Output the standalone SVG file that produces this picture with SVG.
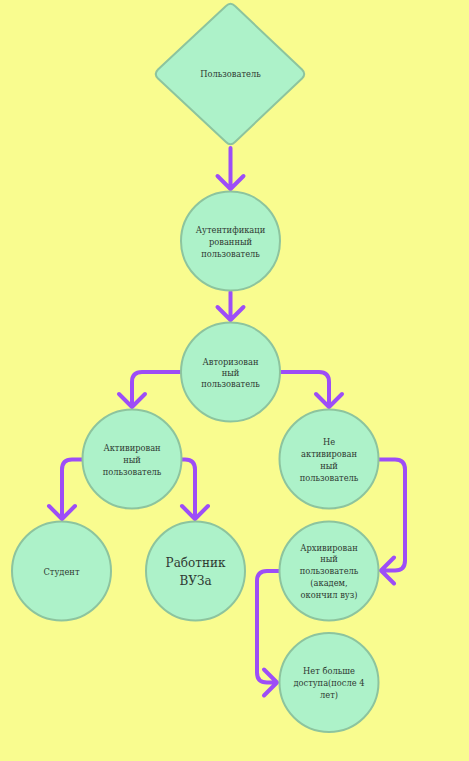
<svg xmlns="http://www.w3.org/2000/svg" width="469" height="761" viewBox="0 0 469 761">
<style>
.n{fill:#ADF2C9;stroke:#8DC49E;stroke-width:2}
.t{font-family:"DejaVu Serif","Liberation Serif",serif;font-size:8.3px;fill:#2F3A33;text-anchor:middle}
.c{fill:none;stroke:#9D4DF7;stroke-width:4;stroke-linecap:round;stroke-linejoin:round}
</style>
<rect width="469" height="761" fill="#F9FC8F"/>
<g id="connectors">
<path class="c" d="M230.5 148V189M217.5 176L230.5 189L243.5 176"/>
<path class="c" d="M230.5 292V320M217.5 307L230.5 320L243.5 307"/>
<path class="c" d="M181 372H142Q132 372 132 382V407M119 394L132 407L145 394"/>
<path class="c" d="M280 372H319Q329 372 329 382V407M316 394L329 407L342 394"/>
<path class="c" d="M82 459.5H72Q62 459.5 62 469.5V519M49 506L62 519L75 506"/>
<path class="c" d="M182 459.5H185Q195 459.5 195 469.5V519M182 506L195 519L208 506"/>
<path class="c" d="M379 459.5H395Q405 459.5 405 469.5V560.5Q405 570.5 395 570.5H381M394 557.5L381 570.5L394 583.5"/>
<path class="c" d="M279 571H267Q257 571 257 581V672.5Q257 682.5 267 682.5H277M264 669.5L277 682.5L264 695.5"/>
</g>
<g id="user">
<path class="n" d="M226 6Q230.5 1.5 235 6L302 69.5Q306.5 74 302 78.5L235 142Q230.5 146.5 226 142L158 78.5Q153.5 74 158 69.5Z"/>
<text class="t" x="230.5" y="77">Пользователь</text>
</g>
<g id="authenticated">
<circle class="n" cx="230.5" cy="241" r="49.5"/>
<text class="t" x="230.5" y="233">Аутентификаци</text>
<text class="t" x="230.5" y="245">рованный</text>
<text class="t" x="230.5" y="257">пользователь</text>
</g>
<g id="authorized">
<circle class="n" cx="230.5" cy="372" r="49.5"/>
<text class="t" x="230.5" y="365">Авторизован</text>
<text class="t" x="230.5" y="376">ный</text>
<text class="t" x="230.5" y="387">пользователь</text>
</g>
<g id="active">
<circle class="n" cx="132" cy="459" r="49.5"/>
<text class="t" x="132" y="451">Активирован</text>
<text class="t" x="132" y="463">ный</text>
<text class="t" x="132" y="475">пользователь</text>
</g>
<g id="inactive">
<circle class="n" cx="329" cy="459" r="49.5"/>
<text class="t" x="329" y="445">Не</text>
<text class="t" x="329" y="457">активирован</text>
<text class="t" x="329" y="469">ный</text>
<text class="t" x="329" y="481">пользователь</text>
</g>
<g id="student">
<circle class="n" cx="61.5" cy="571" r="49.5"/>
<text class="t" x="61.5" y="575">Студент</text>
</g>
<g id="worker">
<circle class="n" cx="195.5" cy="571" r="49.5"/>
<text class="t" x="195.5" y="567" style="font-size:12px">Работник</text>
<text class="t" x="195.5" y="585" style="font-size:12px">ВУЗа</text>
</g>
<g id="archived">
<circle class="n" cx="329" cy="571" r="49.5"/>
<text class="t" x="329" y="551">Архивирован</text>
<text class="t" x="329" y="562">ный</text>
<text class="t" x="329" y="574">пользователь</text>
<text class="t" x="329" y="586">(академ,</text>
<text class="t" x="329" y="598">окончил вуз)</text>
</g>
<g id="noaccess">
<circle class="n" cx="329" cy="682.5" r="49.5"/>
<text class="t" x="329" y="674">Нет больше</text>
<text class="t" x="329" y="686">доступа(после 4</text>
<text class="t" x="329" y="698">лет)</text>
</g>
</svg>
